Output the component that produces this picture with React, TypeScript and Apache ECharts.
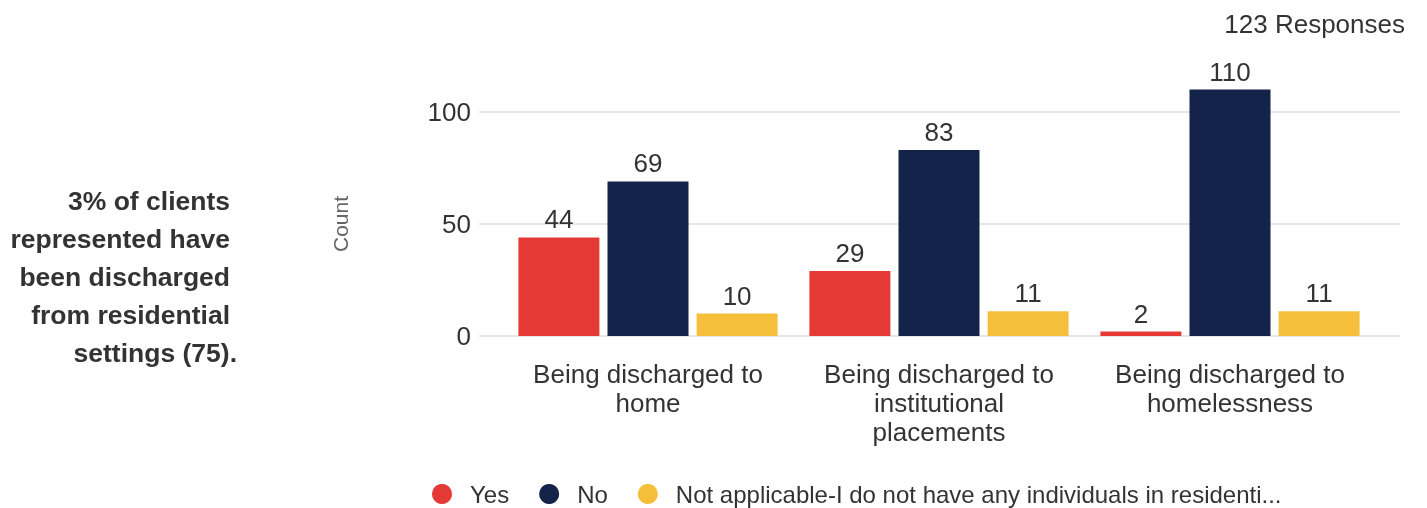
import React, { useEffect, useRef } from "react";
import * as echarts from "echarts";

const categories = [
  "Being discharged to\nhome",
  "Being discharged to\ninstitutional\nplacements",
  "Being discharged to\nhomelessness",
];
const seriesNames = [
  "Yes",
  "No",
  "Not applicable-I do not have any individuals in residenti...",
];
const yesValues = [44, 29, 2];
const noValues = [69, 83, 110];
const naValues = [10, 11, 11];
const colors = ["#E53935", "#13234A", "#F5BF3C"];
const sideNote = [
  "3% of clients",
  "represented have",
  "been discharged",
  "from residential",
  "settings (75).",
];
const responsesText = "123 Responses";

export default function App() {
  const ref = useRef<HTMLDivElement>(null);
  useEffect(() => {
    if (!ref.current) return;
    const chart = echarts.init(ref.current, null, { renderer: "svg" });
    const font = "Liberation Sans, Arial, sans-serif";
    const values = [yesValues, noValues, naValues];
    chart.setOption({
      animation: false,
      textStyle: { fontFamily: font },
      title: {
        text: responsesText,
        right: 17,
        top: 6,
        textStyle: { fontSize: 26, fontWeight: "normal", color: "#333", fontFamily: font },
      },
      graphic: sideNote.map((line, i) => ({
        type: "text",
        x: i < 4 ? 230 : 237,
        y: 187 + i * 38,
        style: {
          text: line,
          fill: "#333",
          font: `bold 26.5px ${font}`,
          textAlign: "right",
          textVerticalAlign: "top",
        },
      })),
      legend: {
        left: 432,
        bottom: 2,
        padding: 0,
        itemGap: 30,
        itemWidth: 46,
        itemHeight: 20,
        icon: "circle",
        textStyle: { fontSize: 24, color: "#333", fontFamily: font },
        data: seriesNames,
      },
      grid: [
        { left: 502.5, right: 51.5, top: 67.2, bottom: 172 },
        { left: 479, right: 27, top: 112, bottom: 172 },
      ],
      xAxis: [
        {
          type: "category",
          gridIndex: 0,
          data: categories,
          axisLine: { show: false },
          axisTick: { show: false },
          axisLabel: {
            fontSize: 26,
            lineHeight: 29,
            color: "#333",
            margin: 23,
            interval: 0,
            fontFamily: font,
          },
        },
        { type: "category", gridIndex: 1, data: categories, show: false },
      ],
      yAxis: [
        {
          type: "value",
          gridIndex: 0,
          min: 0,
          max: 120,
          show: false,
          splitLine: { show: false },
        },
        {
          type: "value",
          gridIndex: 1,
          min: 0,
          max: 100,
          interval: 50,
          name: "Count",
          nameLocation: "middle",
          nameRotate: 90,
          nameGap: 128,
          nameTextStyle: { fontSize: 21, color: "#666", fontFamily: font },
          axisLine: { show: false },
          axisTick: { show: false },
          axisLabel: { fontSize: 26, color: "#333", margin: 8, fontFamily: font },
          splitLine: { lineStyle: { color: "#E6E6E6", width: 2 } },
        },
      ],
      series: seriesNames.map((name, i) => ({
        name,
        type: "bar",
        xAxisIndex: 0,
        yAxisIndex: 0,
        data: values[i],
        barWidth: 81,
        barGap: "10%",
        itemStyle: { color: colors[i] },
        label: {
          show: true,
          position: "top",
          distance: 5,
          fontSize: 26,
          color: "#333",
          fontFamily: font,
        },
      })),
    });
    return () => chart.dispose();
  }, []);
  return (
    <div
      ref={ref}
      style={{ position: "fixed", left: 0, top: 0, width: 1427, height: 508 }}
    />
  );
}
